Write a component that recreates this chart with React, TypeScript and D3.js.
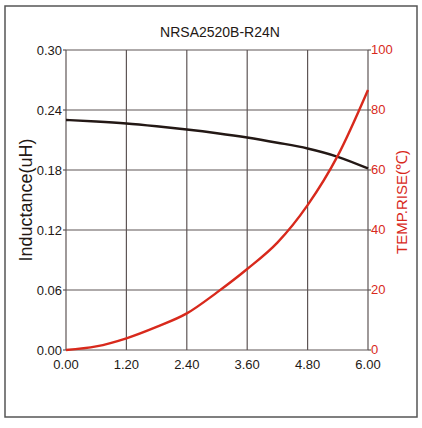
import React from "react";
import * as d3 from "d3";

const current = [0, 0.6, 1.2, 1.8, 2.4, 3.0, 3.6, 4.2, 4.8, 5.4, 6.0];
const inductance = [0.23, 0.2285, 0.2265, 0.2237, 0.2205, 0.2168, 0.2125, 0.2073, 0.2015, 0.1932, 0.1815];
const tempRise = [0, 1.2, 3.9, 7.7, 12.2, 19.2, 27, 35.8, 48.3, 64.8, 86.7];
const xTicks = [0, 1.2, 2.4, 3.6, 4.8, 6.0];
const yLeftTicks = [0, 0.06, 0.12, 0.18, 0.24, 0.3];
const yRightTicks = [0, 20, 40, 60, 80, 100];
const title = "NRSA2520B-R24N";

const W = 422, H = 428;
const L = 66, R = 368, T = 50, B = 350;
const FONT = "'Liberation Sans', Arial, sans-serif";
const RED = "#d8291c";
const GRID = "#5e5656";

export default function App() {
  const x = d3.scaleLinear().domain([0, 6]).range([L, R]);
  const yl = d3.scaleLinear().domain([0, 0.3]).range([B, T]);
  const yr = d3.scaleLinear().domain([0, 100]).range([B, T]);
  const lineL = d3.line<number>().x((_, i) => x(current[i])).y((d) => yl(d)).curve(d3.curveMonotoneX);
  const lineT = d3.line<number>().x((_, i) => x(current[i])).y((d) => yr(d)).curve(d3.curveMonotoneX);

  return (
    <svg width={W} height={H} style={{ position: "absolute", left: 0, top: 0, background: "#fff" }} fontFamily={FONT}>
      <rect x={5} y={6} width={412} height={411} fill="#fff" stroke="#555" strokeWidth={1.5} />
      <text x={220} y={37} textAnchor="middle" fontSize={14} fill="#231815">{title}</text>
      {xTicks.map((t) => (
        <line key={"vx" + t} x1={x(t)} x2={x(t)} y1={T} y2={B} stroke={GRID} strokeWidth={1.2} />
      ))}
      {yLeftTicks.map((t) => (
        <line key={"hy" + t} x1={L} x2={R} y1={yl(t)} y2={yl(t)} stroke={GRID} strokeWidth={1.2} />
      ))}
      {yLeftTicks.map((t) => (
        <g key={"lt" + t}>
          <line x1={L - 3} x2={L} y1={yl(t)} y2={yl(t)} stroke={GRID} strokeWidth={1.2} />
          <text x={62} y={yl(t)} dy="0.35em" textAnchor="end" fontSize={13} fill="#231815">{t.toFixed(2)}</text>
        </g>
      ))}
      {yRightTicks.map((t) => (
        <g key={"rt" + t}>
          <line x1={R} x2={R + 3} y1={yr(t)} y2={yr(t)} stroke={GRID} strokeWidth={1.2} />
          <text x={371} y={yr(t)} dy="0.3em" textAnchor="start" fontSize={13} fill={RED}>{t}</text>
        </g>
      ))}
      {xTicks.map((t) => (
        <text key={"xt" + t} x={x(t)} y={369} textAnchor="middle" fontSize={13} fill="#231815">{t.toFixed(2)}</text>
      ))}
      <text transform="translate(32,200) rotate(-90)" textAnchor="middle" fontSize={18} fill="#231815">Inductance(uH)</text>
      <text transform="translate(407,202) rotate(-90)" textAnchor="middle" fontSize={15} fill={RED}>TEMP.RISE(℃)</text>
      <path d={lineL(inductance) || ""} fill="none" stroke="#231815" strokeWidth={2.4} />
      <path d={lineT(tempRise) || ""} fill="none" stroke={RED} strokeWidth={2.4} />
    </svg>
  );
}
